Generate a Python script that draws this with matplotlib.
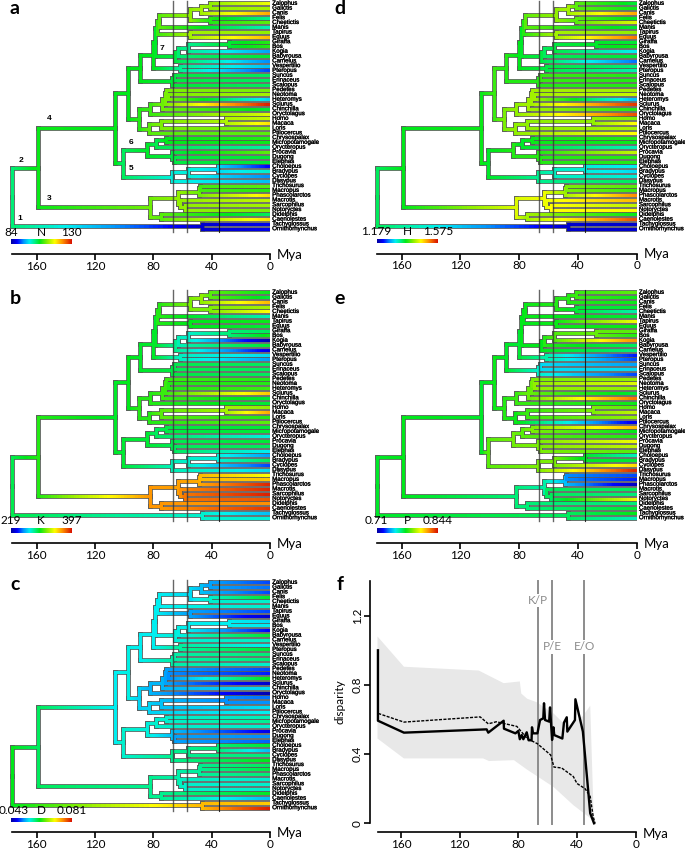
import numpy as np
import matplotlib
matplotlib.use('Agg')
import matplotlib.pyplot as plt
import matplotlib.patheffects as pe
from matplotlib.collections import LineCollection
from matplotlib.colors import LinearSegmentedColormap

W, H = 685, 850

taxa = ['Zalophus', 'Galictis', 'Canis', 'Felis', 'Cheetictis', 'Manis', 'Tapirus', 'Equus',
        'Giraffa', 'Bos', 'Kogia', 'Babyrousa', 'Camelus', 'Vespertilio', 'Pteropus', 'Suncus',
        'Erinaceus', 'Scalopus', 'Pedetes', 'Neotoma', 'Heteromys', 'Sciurus', 'Chinchilla',
        'Oryctolagus', 'Homo', 'Macaca', 'Loris', 'Ptilocercus', 'Chrysospalax', 'Micropotamogale',
        'Orycteropus', 'Procavia', 'Dugong', 'Elephas', 'Choloepus', 'Bradypus', 'Cyclopes',
        'Dasypus', 'Trichosurus', 'Macropus', 'Phascolarctos', 'Macrotis', 'Sarcophilus',
        'Notoryctes', 'Didelphis', 'Caenolestes', 'Tachyglossus', 'Ornithorhynchus']

# internal nodes are numbered from 48 (0-47 are the taxa above)
node_age = [177, 159, 106, 97, 89, 80, 79, 77.5, 76, 55, 47, 41, 41, 55, 65, 63, 56, 28, 62, 67, 66,
            90, 82, 74, 72, 71, 70, 83, 75, 30, 101, 84, 78, 71, 67, 66, 67, 56, 35.5, 82, 63, 49,
            48, 62, 58, 75, 46.7]
node_kids = [[49, 94], [50, 87], [51, 78], [52, 69], [53, 67], [54, 66], [55, 62], [56, 61], [57, 5],
             [58, 60], [59, 2], [0, 1], [3, 4], [6, 7], [63, 12], [64, 11], [65, 10], [8, 9], [13, 14],
             [68, 17], [15, 16], [70, 75], [71, 23], [72, 22], [73, 21], [18, 74], [19, 20], [76, 27],
             [77, 26], [24, 25], [79, 84], [80, 82], [81, 30], [28, 29], [31, 83], [32, 33], [85, 37],
             [86, 36], [34, 35], [88, 93], [89, 91], [90, 40], [38, 39], [41, 92], [42, 43], [44, 45],
             [46, 47]]

tips_n = [70, 62, 82, 38, 55, 35, 60, 80, 50, 50, 22, 45, 20, 25, 15, 42, 42, 42, 58, 62, 28, 98, 45, 68,
          65, 75, 58, 55, 50, 48, 37, 55, 45, 45, 10, 33, 20, 25, 55, 50, 75, 65, 62, 58, 42, 75, 8, 8]
nodes_n = [40, 48, 47, 47, 47, 47, 46, 52, 55, 60, 62, 60, 50, 62, 44, 40, 38, 45, 38, 45, 44, 50, 52, 57,
           58, 58, 58, 55, 58, 63, 42, 46, 43, 47, 44, 44, 32, 32, 28, 57, 60, 57, 53, 60, 60, 55, 5]
tips_k = [48, 45, 80, 62, 72, 35, 48, 45, 42, 48, 2, 45, 8, 28, 22, 42, 42, 42, 50, 50, 52, 78, 45, 45,
          60, 82, 50, 55, 45, 45, 32, 45, 42, 30, 22, 42, 15, 28, 72, 78, 97, 97, 98, 92, 85, 95, 25, 32]
nodes_k = [43, 50, 46, 47, 46, 46, 46, 50, 50, 58, 60, 55, 58, 47, 38, 35, 33, 40, 34, 44, 43, 50, 50, 52,
           52, 52, 50, 50, 55, 62, 45, 45, 42, 44, 43, 42, 35, 33, 32, 84, 83, 82, 80, 85, 88, 84, 33]
tips_d = [15, 18, 15, 46, 33, 33, 15, 5, 28, 30, 10, 45, 34, 30, 45, 40, 40, 33, 15, 12, 47, 5, 28, 2,
          18, 20, 28, 30, 35, 38, 33, 8, 20, 17, 45, 25, 40, 47, 42, 44, 40, 33, 33, 33, 46, 25, 78, 98]
nodes_d = [47, 42, 30, 31, 30, 30, 30, 30, 30, 28, 25, 22, 33, 22, 32, 31, 30, 30, 37, 36, 36, 27, 24, 24,
           22, 22, 20, 27, 25, 20, 33, 32, 33, 33, 25, 22, 38, 38, 40, 38, 36, 37, 38, 34, 33, 38, 80]
tips_h = [45, 48, 82, 46, 68, 45, 60, 88, 45, 48, 30, 45, 18, 40, 36, 50, 50, 50, 62, 66, 25, 95, 50, 92,
          58, 72, 62, 72, 50, 48, 35, 65, 50, 50, 30, 28, 32, 42, 55, 52, 85, 80, 65, 72, 48, 92, 5, 5]
nodes_h = [42, 47, 48, 52, 50, 47, 46, 50, 55, 60, 62, 55, 55, 62, 44, 42, 44, 46, 44, 50, 52, 58, 60, 62,
           62, 62, 62, 60, 60, 60, 46, 50, 46, 48, 50, 50, 38, 34, 32, 68, 70, 62, 58, 70, 72, 62, 5]
tips_p = [55, 48, 48, 45, 36, 45, 70, 48, 55, 50, 85, 42, 40, 12, 15, 22, 28, 15, 60, 68, 60, 45, 88, 48,
          55, 65, 60, 8, 80, 47, 50, 70, 65, 55, 35, 45, 76, 97, 15, 12, 4, 42, 40, 70, 40, 45, 47, 35]
nodes_p = [46, 47, 46, 48, 46, 45, 47, 47, 48, 50, 50, 52, 45, 48, 47, 50, 54, 56, 36, 33, 28, 50, 52, 56,
           56, 58, 60, 48, 52, 58, 55, 57, 55, 58, 58, 58, 58, 58, 46, 40, 36, 25, 20, 42, 42, 40, 42]

age_ticks = [160, 120, 80, 40, 0]
boundaries = [66.8, 56.8, 35]
boundary_names = ['K/P', 'P/E', 'E/O']

# panel f
upper_age = [176, 158, 107, 90, 79, 78, 74, 67.5, 56, 47, 36, 31, 28.5]
upper_val = [1.08, 0.905, 0.883, 0.81, 0.82, 0.75, 0.72, 0.70, 0.635, 0.56, 0.62, 0.68, 0]
lower_age = [176, 158, 104, 100, 83, 74, 56, 42.5, 31, 28.5]
lower_val = [0.49, 0.375, 0.375, 0.36, 0.365, 0.31, 0.21, 0.105, 0.03, 0]
null_age = [175.5, 158, 106, 100.5, 95, 81, 74, 67, 58, 55.7, 50.5, 42.5, 40, 34.5, 31, 29, 27.7]
null_val = [0.635, 0.585, 0.615, 0.575, 0.587, 0.56, 0.49, 0.46, 0.395, 0.325, 0.32, 0.27, 0.23, 0.20,
            0.155, 0.04, 0]
obs_age = [175.7, 175.7, 158, 101.6, 100.5, 90, 89.8, 82, 80, 79, 77.7, 76.6, 74.3, 73, 71, 70.7, 70, 67,
           65.2, 63, 62.5, 61.8, 59, 58.4, 57, 56.1, 55.5, 50, 48.9, 47, 46.6, 41.4, 41.1, 36, 31, 28.4]
obs_val = [1.0, 0.593, 0.524, 0.543, 0.524, 0.593, 0.547, 0.52, 0.534, 0.486, 0.51, 0.486, 0.526, 0.48,
           0.48, 0.555, 0.52, 0.52, 0.597, 0.607, 0.694, 0.597, 0.588, 0.67, 0.482, 0.555, 0.51, 0.49,
           0.582, 0.613, 0.53, 0.597, 0.717, 0.53, 0.058, 0]

ramp = LinearSegmentedColormap.from_list('ramp', [
    (0.0, '#0000a0'), (0.10, '#0000ff'), (0.20, '#0090ff'), (0.30, '#00f0f0'), (0.38, '#00f090'),
    (0.47, '#00e81a'), (0.60, '#90f000'), (0.72, '#ffff00'), (0.85, '#ff9000'), (1.0, '#d81000')])

plt.rcParams['font.family'] = ['Lato', 'DejaVu Sans']


def px_text(x, y, s, **kw):
    kw.setdefault('ha', 'center')
    kw.setdefault('va', 'center')
    fig.text(x / W, 1 - y / H, s, **kw)


def tree_layout():
    ys = {i: float(i) for i in range(len(taxa))}

    def walk(n):
        if n in ys:
            return ys[n]
        ys[n] = np.mean([walk(k) for k in node_kids[n - 48]])
        return ys[n]

    walk(48)
    return ys


def draw_tree(x0, scale, first, axis_y, tips, nodes, lo, name, hi, bar_x, lo_x):
    step = 4.796
    left = x0 - 182 * scale
    ax = fig.add_axes([left / W, 1 - axis_y / H, (x0 - left) / W, axis_y / H - (first - 4) / H])
    ax.set_xlim(182, 0)
    ax.set_ylim((axis_y - first) / step, -4 / step)
    ax.patch.set_alpha(0)

    ys = tree_layout()
    level = list(tips) + list(nodes)
    age = [0] * len(taxa) + node_age
    outline, coloured, values = [], [], []
    for p, kids in enumerate(node_kids):
        p = p + 48
        for k in kids:
            t = np.linspace(age[p], age[k], 41)
            v = np.linspace(level[p], level[k], 40)
            for i in range(40):
                coloured.append([(t[i], ys[k]), (t[i + 1], ys[k])])
                values.append(v[i])
            outline.append([(age[p], ys[k]), (age[k], ys[k])])
            # vertical connector from the parent
            outline.append([(age[p], ys[p]), (age[p], ys[k])])
            coloured.append([(age[p], ys[p]), (age[p], ys[k])])
            values.append(level[p])

    ax.add_collection(LineCollection(outline, colors='#5a5a5a', linewidths=3.4, capstyle='projecting'))
    lc = LineCollection(coloured, array=np.array(values), cmap=ramp, linewidths=2.2, capstyle='projecting')
    lc.set_clim(0, 100)
    ax.add_collection(lc)

    for b in boundaries[:2]:
        ax.plot([b, b], [-0.45, 47.7], color='#333333', lw=1.0, alpha=0.75)
    ax.plot([boundaries[2]] * 2, [-0.45, 47.7], color='#111111', lw=0.8, alpha=0.85)

    stroke = [pe.withStroke(linewidth=0.2, foreground='black')]
    for i, t in enumerate(taxa):
        ax.text(-1.5, i, t, fontsize=4.4, family='Liberation Sans', va='center', ha='left', clip_on=False,
                path_effects=stroke)

    for s in ['top', 'left', 'right']:
        ax.spines[s].set_visible(False)
    ax.spines['bottom'].set_bounds(177, 0)
    ax.spines['bottom'].set_linewidth(1.2)
    ax.set_yticks([])
    ax.set_xticks(age_ticks)
    ax.tick_params(axis='x', length=4, width=1.2, labelsize=8.5, pad=1)
    px_text(x0 + 20, axis_y + 1, 'Mya', fontsize=9.5)

    # colour key
    bar_y = axis_y - 10
    cax = fig.add_axes([bar_x / W, 1 - bar_y / H, 61 / W, 4.6 / H])
    cax.imshow(np.linspace(0, 1, 200)[None, :], cmap=ramp, aspect='auto')
    cax.axis('off')
    px_text(lo_x, bar_y - 12, lo, fontsize=8.5)
    px_text(bar_x + 30.5, bar_y - 12, name, fontsize=8.5)
    px_text(bar_x + 61, bar_y - 12, hi, fontsize=8.5)


fig = plt.figure(figsize=(W / 100, H / 100), dpi=100)

draw_tree(270, 1.459, 3.3, 254, tips_n, nodes_n, '84', 'N', '130', 10.7, 11)
draw_tree(270, 1.459, 292.3, 542.7, tips_k, nodes_k, '219', 'K', '397', 10.7, 11)
draw_tree(270, 1.459, 582.3, 832.2, tips_d, nodes_d, '0.043', 'D', '0.081', 10.7, 14)
draw_tree(636.7, 1.469, 3.3, 253.5, tips_h, nodes_h, '1.179', 'H', '1.575', 376.7, 376)
draw_tree(636.7, 1.469, 292.3, 543, tips_p, nodes_p, '0.71', 'P', '0.844', 376.7, 376)

# panel f
left, x0, top, zero, bottom = 370, 635.7, 580, 823.3, 832.3
ax = fig.add_axes([left / W, 1 - bottom / H, (x0 - left) / W, (bottom - top) / H])
ax.set_xlim((x0 - left) / 1.467, 0)
ax.set_ylim(-(bottom - zero) / 173, (zero - top) / 173)
ax.patch.set_alpha(0)
ax.fill(np.r_[upper_age, lower_age[::-1]], np.r_[upper_val, lower_val[::-1]], color='#e8e8e8', lw=0)
for b, n, yt in zip(boundaries, boundary_names, [1.288, 1.02, 1.02]):
    ax.plot([b, b], [-0.005, 1.4], color='#8c8c8c', lw=1.4)
    ax.text(b, yt, n, color='#8c8c8c', fontsize=8.5, ha='center', va='center',
            bbox=dict(fc='white', ec='none', pad=1))
ax.plot(null_age, null_val, color='black', lw=1.0, ls=(0, (2.2, 1)))
ax.plot(obs_age, obs_val, color='black', lw=1.7)
ax.spines['top'].set_visible(False)
ax.spines['right'].set_visible(False)
ax.spines['left'].set_bounds(0, 1.4)
ax.spines['bottom'].set_bounds(176, 0)
ax.spines['left'].set_linewidth(1.2)
ax.spines['bottom'].set_linewidth(1.2)
ax.set_xticks(age_ticks)
ax.set_yticks([0, 0.4, 0.8, 1.2])
ax.set_yticklabels(['0', '0.4', '0.8', '1.2'], rotation=90, va='center')
ax.tick_params(length=4, width=1.2, labelsize=8.5, pad=1)
px_text(340, 702, 'disparity', rotation=90, fontsize=8.5)
px_text(656, 834, 'Mya', fontsize=9.5)

# panel letters and branch numbers
for s, x, y in [('a', 15, 8), ('b', 15, 298), ('c', 15, 584), ('d', 340, 8), ('e', 340, 298), ('f', 340, 585)]:
    px_text(x, y, s, fontsize=14, fontweight='bold')
for s, x, y in [('1', 20, 218), ('2', 21, 160), ('3', 49, 199), ('4', 49, 119), ('5', 131, 169),
                ('6', 131, 142), ('7', 162, 49)]:
    px_text(x, y, s, fontsize=6, fontweight='bold', family='Liberation Sans')

fig.savefig('out.png', dpi=100)
